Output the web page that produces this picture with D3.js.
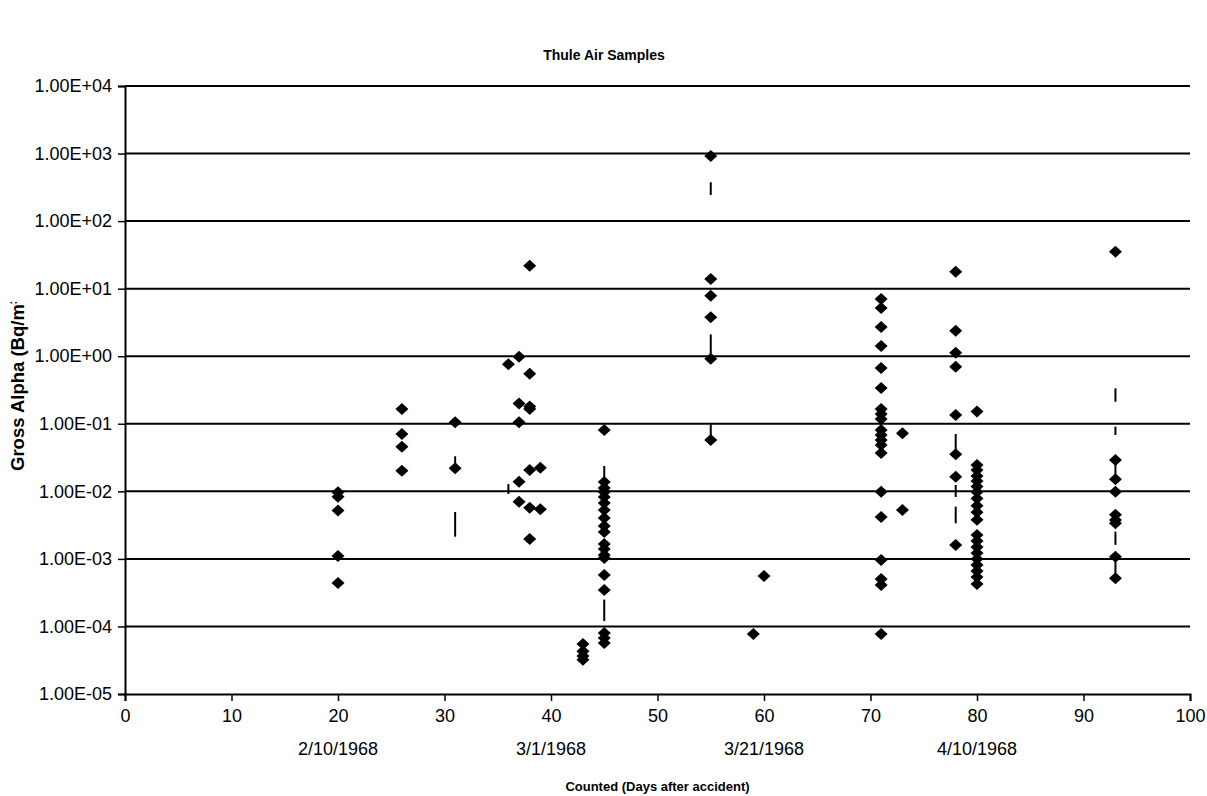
<!DOCTYPE html>
<html>
<head>
<meta charset="utf-8">
<script src="https://cdn.jsdelivr.net/npm/d3@7"></script>
<style>
  body { margin: 0; background: #fff; }
  text { font-family: "Liberation Sans", Arial, sans-serif; }
</style>
</head>
<body>
<svg id="chart" width="1207" height="796"></svg>
<script>
// days after accident, one entry per sampling day
const sampleDays = [20, 26, 31, 36, 37, 38, 39, 43, 45, 55, 59, 60, 71, 73, 78, 80, 93];

// gross alpha (Bq/m3) read for each sampling day
const grossAlpha = [
  [0.0097, 0.0083, 0.0052, 0.0011, 0.00044],
  [0.166, 0.0706, 0.0458, 0.0202],
  [0.105, 0.0219],
  [0.76],
  [0.98, 0.199, 0.105, 0.0139, 0.00703],
  [21.9, 0.55, 0.18, 0.166, 0.0207, 0.00573, 0.00197],
  [0.0224, 0.00542],
  [5.5e-5, 4.3e-5, 3.65e-5, 3.2e-5],
  [0.081, 0.0138, 0.0112, 0.0098, 0.00826, 0.00673, 0.0053, 0.00403, 0.00307, 0.0025,
   0.00166, 0.0014, 0.00114, 0.00103, 0.000578, 0.000347, 8.0e-5, 6.76e-5, 5.7e-5],
  [920, 13.9, 7.87, 3.77, 0.92, 0.0575],
  [7.7e-5],
  [0.000558],
  [7.03, 5.18, 2.71, 1.42, 0.67, 0.339, 0.166, 0.14, 0.118, 0.081, 0.068, 0.0575, 0.0485,
   0.037, 0.0099, 0.00417, 0.00096, 0.000505, 0.000411, 7.7e-5],
  [0.0722, 0.0053],
  [17.8, 2.39, 1.13, 0.70, 0.135, 0.0353, 0.0165, 0.0016],
  [0.152, 0.0245, 0.0207, 0.0169, 0.0142, 0.0118, 0.0098, 0.0078, 0.0061, 0.0049, 0.0038,
   0.00226, 0.00184, 0.0015, 0.00122, 0.000998, 0.000813, 0.000663, 0.00054, 0.000425],
  [35.3, 0.0291, 0.0151, 0.0099, 0.0045, 0.00377, 0.00336, 0.00108, 0.000516]
];

// short vertical bars seen in the plot
const barDays = [31, 31, 36, 45, 45, 55, 55, 55, 78, 78, 78, 93, 93, 93, 93, 93];
const barHigh = [0.033, 0.00495, 0.0128, 0.0237, 0.00025, 376, 2.1, 0.1016, 0.0706, 0.0124, 0.00593, 0.335, 0.0906, 0.0291, 0.00253, 0.00096];
const barLow  = [0.0219, 0.00213, 0.00914, 0.0138, 0.00012, 244, 0.92, 0.0575, 0.0373, 0.00826, 0.00336, 0.212, 0.0682, 0.0151, 0.00161, 0.00054];

const xTicks = [0, 10, 20, 30, 40, 50, 60, 70, 80, 90, 100];
const yTicks = [1e-5, 1e-4, 1e-3, 1e-2, 1e-1, 1e0, 1e1, 1e2, 1e3, 1e4];
const dateDays = [20, 40, 60, 80];
const dateLabels = ['2/10/1968', '3/1/1968', '3/21/1968', '4/10/1968'];

const width = 1207;
const height = 796;
const margin = { top: 86, right: 17, bottom: 102, left: 125 };
const tickFont = 18;

const svg = d3.select('#chart');

const x = d3.scaleLinear().domain([0, 100]).range([margin.left, width - margin.right]);
const y = d3.scaleLog().domain([1e-5, 1e4]).range([height - margin.bottom, margin.top]);

const fmt = v => {
  const e = Math.round(Math.log10(v));
  return '1.00E' + (e < 0 ? '-' : '+') + String(Math.abs(e)).padStart(2, '0');
};

// gridlines
svg.append('g')
  .selectAll('line')
  .data(yTicks.slice(1))
  .join('line')
  .attr('x1', x(0)).attr('x2', x(100))
  .attr('y1', d => y(d)).attr('y2', d => y(d))
  .attr('stroke', '#000').attr('stroke-width', 2);

// axes
const xAxis = svg.append('g')
  .attr('transform', `translate(0,${y(1e-5)})`)
  .call(d3.axisBottom(x).tickValues(xTicks).tickSize(7).tickPadding(8).tickFormat(d3.format('d')));
xAxis.select('.domain').attr('stroke-width', 2);
xAxis.selectAll('.tick line').attr('stroke-width', 1.5);
xAxis.selectAll('text').attr('font-size', tickFont).attr('fill', '#000');

const yAxis = svg.append('g')
  .attr('transform', `translate(${x(0)},0)`)
  .call(d3.axisLeft(y).tickValues(yTicks).tickSize(7).tickPadding(6).tickFormat(fmt));
yAxis.select('.domain').attr('stroke-width', 2);
yAxis.selectAll('.tick line').attr('stroke-width', 1.5);
yAxis.selectAll('text').attr('font-size', tickFont).attr('fill', '#000');

// date labels under the day ticks
svg.append('g')
  .selectAll('text')
  .data(dateDays)
  .join('text')
  .attr('x', d => x(d))
  .attr('y', 755)
  .attr('text-anchor', 'middle')
  .attr('font-size', tickFont)
  .text((d, i) => dateLabels[i]);

// vertical bars
svg.append('g')
  .selectAll('line')
  .data(barDays)
  .join('line')
  .attr('x1', d => x(d)).attr('x2', d => x(d))
  .attr('y1', (d, i) => y(barHigh[i]))
  .attr('y2', (d, i) => y(barLow[i]))
  .attr('stroke', '#000').attr('stroke-width', 2);

// diamonds
const points = sampleDays.flatMap((day, i) => grossAlpha[i].map(v => ({ day, v })));
svg.append('g')
  .selectAll('path')
  .data(points)
  .join('path')
  .attr('transform', d => `translate(${x(d.day)},${y(d.v)})`)
  .attr('d', 'M0,-6L6.5,0L0,6L-6.5,0Z')
  .attr('fill', '#000');

// titles
svg.append('text')
  .attr('x', 604).attr('y', 60)
  .attr('text-anchor', 'middle')
  .attr('font-size', 14).attr('font-weight', 'bold')
  .text('Thule Air Samples');

svg.append('text')
  .attr('x', x(50)).attr('y', 791)
  .attr('text-anchor', 'middle')
  .attr('font-size', 13).attr('font-weight', 'bold')
  .text('Counted (Days after accident)');

// y title is cut off at the top in the original
svg.append('clipPath').attr('id', 'ytitle-clip')
  .append('rect').attr('x', 0).attr('y', 302).attr('width', 40).attr('height', 300);

svg.append('g')
  .attr('clip-path', 'url(#ytitle-clip)')
  .append('text')
  .attr('transform', 'translate(24,471) rotate(-90)')
  .attr('text-anchor', 'start')
  .attr('font-size', 18.5).attr('font-weight', 'bold')
  .text('Gross Alpha (Bq/m³)');
</script>
</body>
</html>
